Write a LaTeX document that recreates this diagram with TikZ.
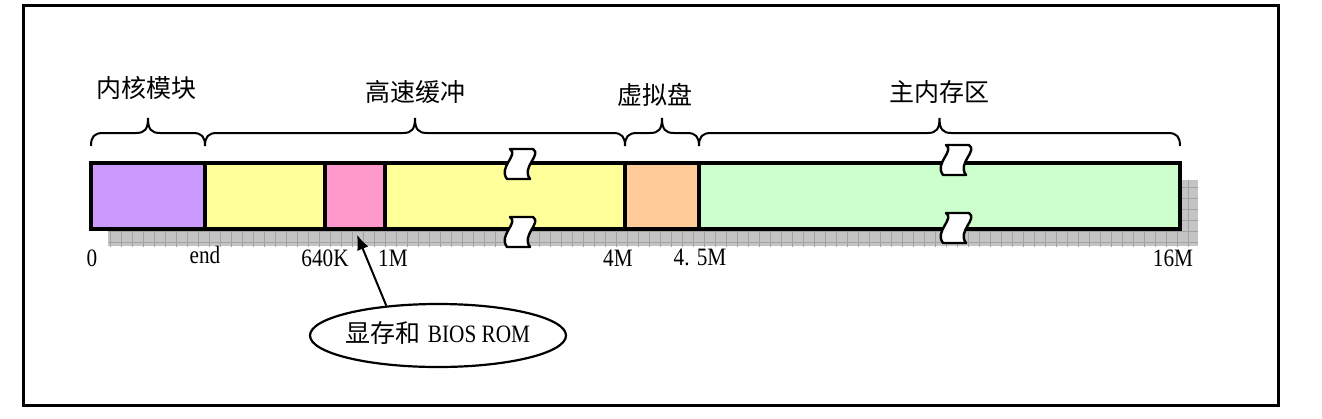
\documentclass[tikz,border=0pt]{standalone}
\usepackage{fontspec}
\setmainfont{Liberation Serif}
\newfontfamily\latn[FakeStretch=0.85]{Liberation Serif}
\newfontfamily\cjk{Noto Sans CJK SC}
\usetikzlibrary{arrows.meta,shapes.geometric,fit}
\definecolor{kpurple}{HTML}{CC99FF}
\definecolor{kyellow}{HTML}{FFFF99}
\definecolor{kpink}{HTML}{FF99CC}
\definecolor{korange}{HTML}{FFCC99}
\definecolor{kgreen}{HTML}{CCFFCC}
\definecolor{kshadow}{HTML}{C4C4C4}
\definecolor{kgrid}{HTML}{A2A2A2}
\newcommand{\memBrace}[2]{%
  \draw[brcline] (#1,146) .. controls (#1,137) and ({#1+3},133) .. ({#1+12},133)
    -- ({(#1+#2)/2-12},133) .. controls ({(#1+#2)/2-3},133) and ({(#1+#2)/2},129) .. ({(#1+#2)/2},118)
    .. controls ({(#1+#2)/2},129) and ({(#1+#2)/2+3},133) .. ({(#1+#2)/2+12},133)
    -- ({#2-12},133) .. controls ({#2-3},133) and (#2,137) .. (#2,146);}
\begin{document}
\begin{tikzpicture}[x=0.5pt,y=-0.5pt,
  seg/.style={draw=black,line width=1.75pt,inner sep=0pt},
  brcline/.style={line width=1pt},
  cjklab/.style={font=\cjk\fontsize{12.5}{14}\selectfont},
  numlab/.style={font=\latn\fontsize{12.5}{14}\selectfont,anchor=base,inner sep=0pt},
  brkshape/.style={fill=white,draw=black,line width=1.2pt,line join=round},
  pics/brk/.style={code={
    \path[brkshape] (5,0) -- (28,0) .. controls (37,6) and (16,18) .. (25,30)
      -- (2,30) .. controls (-7,18) and (14,6) .. (5,0) -- cycle;}},
]
\useasboundingbox (0,0) rectangle (1322,418);
\node[draw,line width=1.5pt,inner sep=0pt,fit={(23,5)(1278,405)}] (frame) {};
% shadow
\fill[kshadow] (108,180) rectangle (1198,246);
\begin{scope}
  \clip (108,180) rectangle (1198,246);
  \draw[kgrid,line width=0.35pt,step=5.5pt] (100,170) grid (1210,250);
\end{scope}
% segments
\node[seg,fill=kpurple,fit={(91,163)(205,229)}] (k) {};
\node[seg,fill=kyellow,fit={(205,163)(325,229)}] (y1) {};
\node[seg,fill=kpink,fit={(325,163)(385,229)}] (p) {};
\node[seg,fill=kyellow,fit={(385,163)(625,229)}] (y2) {};
\node[seg,fill=korange,fit={(625,163)(699,229)}] (o) {};
\node[seg,fill=kgreen,fit={(699,163)(1180,229)}] (g) {};
% breaks
\pic at (505,149) {brk};
\pic at (505,217) {brk};
\pic at (941,145) {brk};
\pic at (941,213) {brk};
% braces
\memBrace{91}{205}
\memBrace{205}{625}
\memBrace{625}{699}
\memBrace{699}{1180}
% labels
\node[cjklab] (l1) at (146,88) {内核模块};
\node[cjklab] (l2) at (415,92) {高速缓冲};
\node[cjklab] (l3) at (655,95) {虚拟盘};
\node[cjklab] (l4) at (939,92) {主内存区};
\node[numlab] (a0) at (92,266) {0};
\node[numlab] (a1) at (205,263) {end};
\node[numlab] (a2) at (325,266) {640K};
\node[numlab] (a3) at (393,266) {1M};
\node[numlab] (a4) at (618,266) {4M};
\node[numlab] (a5) at (700,265) {4. 5M};
\node[numlab] (a6) at (1173,266) {16M};
% ellipse
\node[draw,ellipse,line width=1.1pt,minimum width=128pt,minimum height=31.5pt,inner sep=0pt] (ell) at (438,335.5) {};
\node[inner sep=0pt] (elltext) at (438,333)
  {{\cjk\fontsize{12.5}{14}\selectfont 显存和}\hspace{3.5pt}{\latn\fontsize{12.5}{14}\selectfont BIOS ROM}};
\draw[line width=1pt,-{Latex[length=7.5pt,width=6pt]}] (ell.150) -- ([shift={(2,4)}]p.south);
\end{tikzpicture}
\end{document}
